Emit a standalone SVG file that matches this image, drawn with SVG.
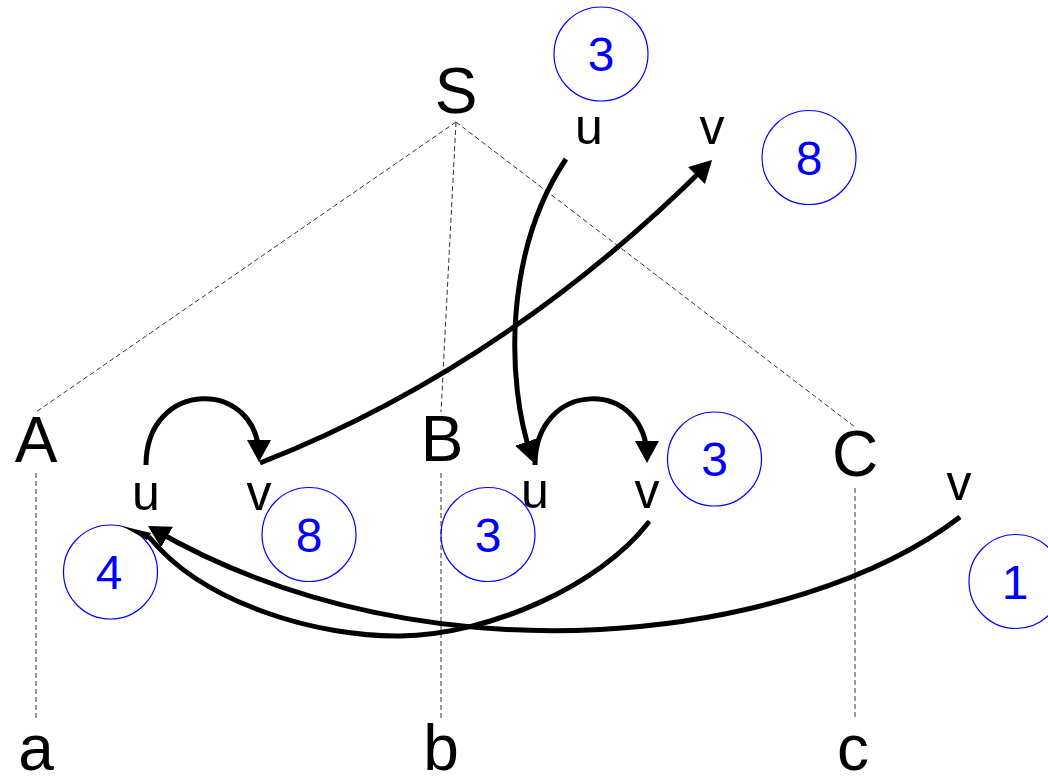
<svg xmlns="http://www.w3.org/2000/svg" width="1048" height="776" viewBox="0 0 1048 776">
<style>
.big{font-family:"Liberation Sans",Arial,sans-serif;font-size:64px;fill:#000;text-anchor:middle}
.sm{font-family:"Liberation Sans",Arial,sans-serif;font-size:50px;fill:#000;text-anchor:middle}
.num{font-family:"Liberation Sans",Arial,sans-serif;font-size:48px;fill:#0000ff;text-anchor:middle}
.ring{fill:none;stroke:#0000ff;stroke-width:1.2}
.dash{fill:none;stroke:#333;stroke-width:1;stroke-dasharray:5,3}
.arc{fill:none;stroke:#000;stroke-width:5;stroke-linecap:round}
.arrow{fill:none;stroke:#000;stroke-width:5;stroke-linecap:butt;marker-end:url(#head)}
</style>
<defs>
<marker id="head" markerUnits="userSpaceOnUse" viewBox="0 0 22 24" refX="17" refY="12" markerWidth="22" markerHeight="24" orient="auto">
<path d="M0,0 L22,12 L0,24 z" fill="#000"/>
</marker>
</defs>
<g id="tree">
<line class="dash" x1="456" y1="122" x2="36" y2="412"/>
<line class="dash" x1="456" y1="122" x2="441" y2="412"/>
<line class="dash" x1="456" y1="122" x2="855" y2="427"/>
<line class="dash" x1="36" y1="473" x2="36" y2="720"/>
<line class="dash" x1="441" y1="473" x2="441" y2="720"/>
<line class="dash" x1="855" y1="488" x2="855" y2="720"/>
</g>
<g id="node-S"><text class="big" x="456" y="113">S</text></g>
<g id="node-A"><text class="big" x="36" y="462">A</text></g>
<g id="node-B"><text class="big" x="442" y="461">B</text></g>
<g id="node-C"><text class="big" x="855" y="476">C</text></g>
<g id="node-a"><text class="big" x="36" y="770">a</text></g>
<g id="node-b"><text class="big" x="441" y="770">b</text></g>
<g id="node-c"><text class="big" x="853" y="770">c</text></g>
<g id="node-S-u"><text class="sm" x="589" y="144">u</text></g>
<g id="node-S-v"><text class="sm" x="712" y="144">v</text></g>
<g id="node-A-u"><text class="sm" x="146" y="510">u</text></g>
<g id="node-A-v"><text class="sm" x="259" y="510">v</text></g>
<g id="node-B-u"><text class="sm" x="535" y="508">u</text></g>
<g id="node-B-v"><text class="sm" x="647" y="508">v</text></g>
<g id="node-C-v"><text class="sm" x="959" y="500">v</text></g>
<g id="w-top3"><circle class="ring" cx="601" cy="54" r="47"/><text class="num" x="601" y="71">3</text></g>
<g id="w-top8"><circle class="ring" cx="809" cy="157.5" r="47"/><text class="num" x="809" y="175">8</text></g>
<g id="w-Bv3"><circle class="ring" cx="714.5" cy="459" r="47"/><text class="num" x="714.5" y="476">3</text></g>
<g id="w-Bu3"><circle class="ring" cx="488" cy="534.5" r="47"/><text class="num" x="488" y="552">3</text></g>
<g id="w-Av8"><circle class="ring" cx="309" cy="534.5" r="47"/><text class="num" x="309" y="552">8</text></g>
<g id="w-Au4"><circle class="ring" cx="110.5" cy="572" r="47"/><text class="num" x="109" y="589">4</text></g>
<g id="w-Cv1"><circle class="ring" cx="1016" cy="581.5" r="47"/><text class="num" x="1015" y="599">1</text></g>
<g id="connectors">
<path class="arrow" d="M146,465 C146,378 259,378 259,457"/>
<path class="arrow" d="M535,465 C535,378 647,378 647,458"/>
<path class="arrow" d="M566,159 C505,250 505,380 532,458"/>
<path class="arrow" d="M260,463 Q505,367 708.5,163.5"/>
<path class="arrow" d="M960,517 C800,640 430,690 152.3,528.5"/>
<path class="arc" d="M648,523 C600,585 490,635 400,636 C320,637 205,605 150,538" stroke-linecap="butt"/>
<polygon points="122,526 151,533 147,540" fill="#000"/>
</g>
</svg>
